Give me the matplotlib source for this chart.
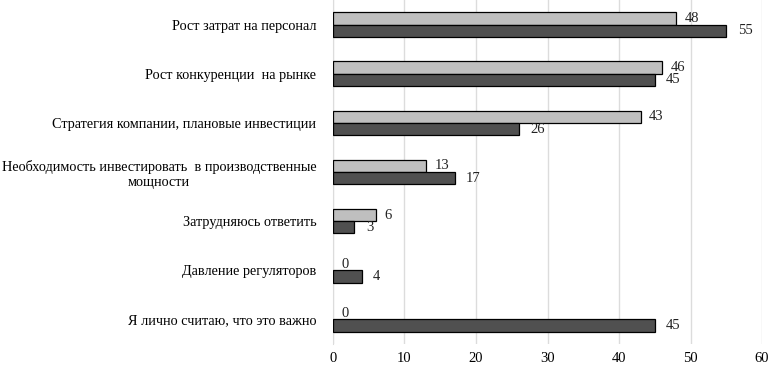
import matplotlib
matplotlib.use("Agg")
import matplotlib.pyplot as plt
import numpy as np

categories = [
    "Рост затрат на персонал",
    "Рост конкуренции  на рынке",
    "Стратегия компании, плановые инвестиции",
    "Необходимость инвестировать  в производственные\nмощности",
    "Затрудняюсь ответить",
    "Давление регуляторов",
    "Я лично считаю, что это важно",
]
series_light = [48, 46, 43, 13, 6, 0, 0]
series_dark = [55, 45, 26, 17, 3, 4, 45]
x_ticks = [0, 10, 20, 30, 40, 50, 60]

plt.rcParams['font.family'] = ['Liberation Serif', 'DejaVu Serif']

fig = plt.figure(figsize=(7.69, 3.65), dpi=100)
ax = fig.add_axes([0.433, 0.0575, 0.558, 0.9425])

n = len(categories)
y = np.arange(n)
h = 0.25
lw_light = [0.9 if v > 0 else 0 for v in series_light]
lw_dark = [0.9 if v > 0 else 0 for v in series_dark]
ax.barh(y - h / 2, series_light, height=h, color='#bfbfbf', edgecolor='black', linewidth=lw_light, zorder=3)
ax.barh(y + h / 2, series_dark, height=h, color='#505050', edgecolor='black', linewidth=lw_dark, zorder=3)

for yi, v in zip(y, series_light):
    ax.text(v + 1.2, yi - h / 2, str(v), va='center', ha='left', fontsize=10.5, color='#222222')
for yi, v in zip(y, series_dark):
    ax.text(v + 1.6, yi + h / 2, str(v), va='center', ha='left', fontsize=10.5, color='#222222')

ax.set_ylim(n - 0.5, -0.5)
ax.set_xlim(0, 60)
ax.set_xticks(x_ticks)
ax.set_yticks(y)
ax.set_yticklabels(categories, fontsize=10.3, multialignment='center')
ax.tick_params(axis='both', length=0)
ax.tick_params(axis='x', labelsize=10.5, pad=6)
ax.tick_params(axis='y', pad=12)
ax.grid(axis='x', color='#dcdcdc', linewidth=1, zorder=0)
for s in ['top', 'right', 'bottom']:
    ax.spines[s].set_visible(False)
ax.spines['left'].set_color('#dcdcdc')

fig.savefig('out.png', dpi=100)
